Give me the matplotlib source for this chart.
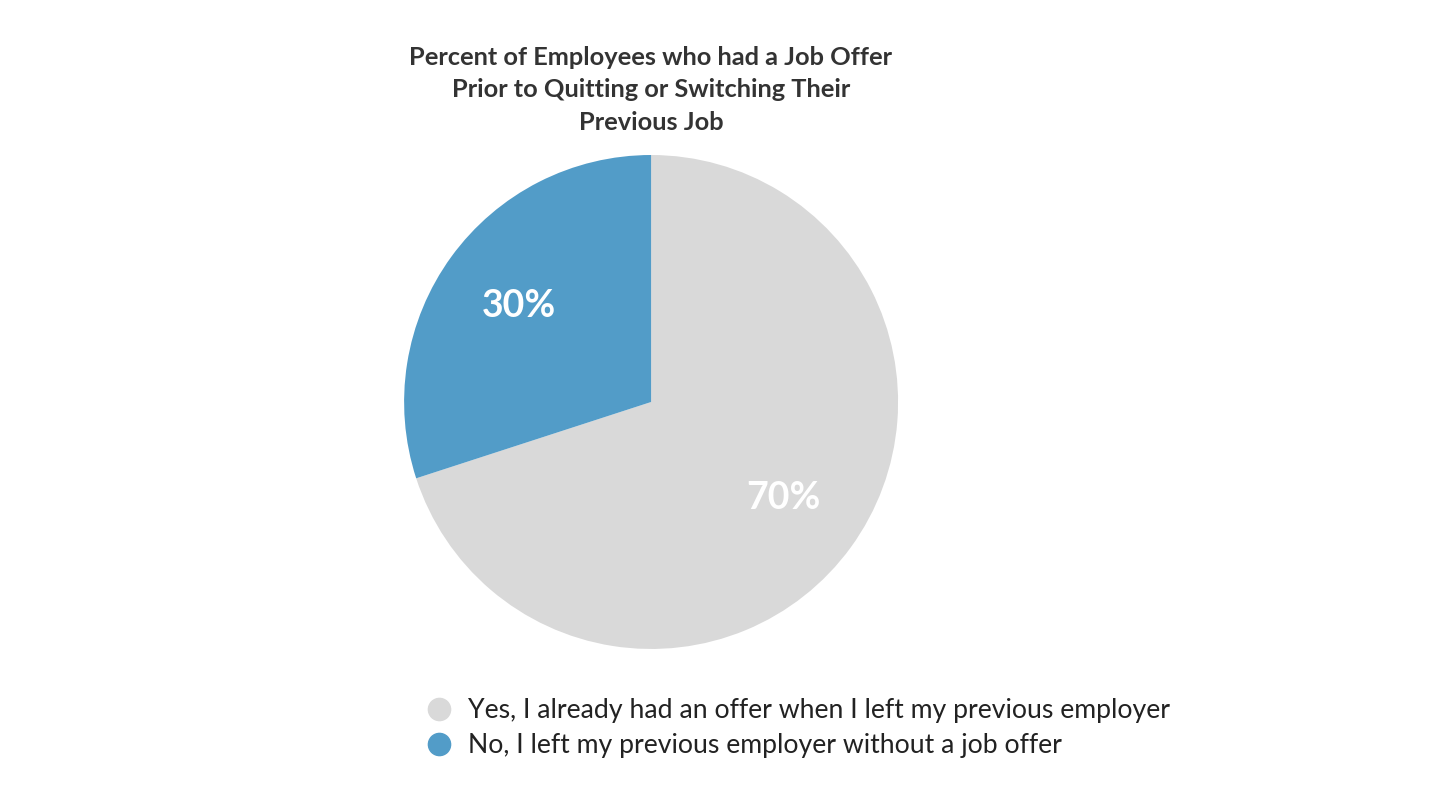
import matplotlib.pyplot as plt
from matplotlib.lines import Line2D

plt.rcParams["font.family"] = ["Lato", "DejaVu Sans"]

# 数据
labels = [
    "Yes, I already had an offer when I left my previous employer",
    "No, I left my previous employer without a job offer",
]
values = [70, 30]
colors = ["#d9d9d9", "#529cc8"]
title = "Percent of Employees who had a Job Offer\nPrior to Quitting or Switching Their\nPrevious Job"

fig = plt.figure(figsize=(14.4, 8.09), dpi=100)
# 饼图区域（中心约在 651,402 像素，半径约 247 像素）
ax = fig.add_axes([0.2806, 0.1978, 0.3431, 0.6106])
wedges, texts, autotexts = ax.pie(
    values,
    colors=colors,
    startangle=90,
    counterclock=False,
    autopct="%d%%",
    pctdistance=0.66,
    radius=1,
    wedgeprops=dict(linewidth=0),
    textprops=dict(color="white", fontsize=27, fontweight="bold"),
)
ax.set_xlim(-1, 1)
ax.set_ylim(-1, 1)
ax.set_aspect("equal")
ax.axis("off")

fig.text(0.452, 0.943, title, ha="center", va="top", fontsize=18.3,
         fontweight="bold", color="#333333", linespacing=1.49)

# 图例
handles = [Line2D([], [], marker="o", linestyle="", markersize=16,
                  markerfacecolor=c, markeredgecolor=c) for c in colors]
fig.legend(handles, labels, loc="upper left", bbox_to_anchor=(0.2938, 0.137),
           frameon=False, fontsize=19.2, handletextpad=0.49, labelspacing=0.38,
           labelcolor="#222222", handlelength=1.2, borderaxespad=0,
           borderpad=0)

fig.savefig("out.png", dpi=100, facecolor="white")
